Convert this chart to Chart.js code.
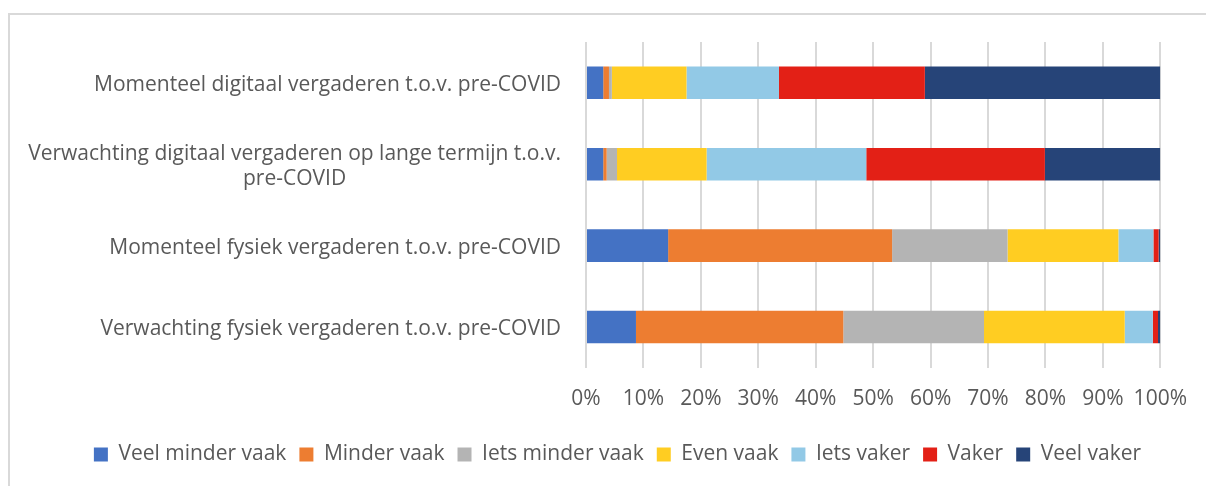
<!DOCTYPE html>
<html>
<head>
<meta charset="utf-8">
<script src="https://cdn.jsdelivr.net/npm/chart.js@4"></script>
<style>
  body { margin: 0; overflow: hidden; background: #fff; }
  #kader { position: absolute; left: 8px; top: 13px; width: 1400px; height: 700px; border: 2px solid #d9d9d9; }
  #cv-verg { position: absolute; left: 0; top: 0; }
</style>
</head>
<body>
<div id="kader"></div>
<canvas id="cv-verg" width="1206" height="486"></canvas>
<script>
let rijen = [
    'Momenteel digitaal vergaderen t.o.v. pre-COVID',
    ['Verwachting digitaal vergaderen op lange termijn t.o.v.', 'pre-COVID'],
    'Momenteel fysiek vergaderen t.o.v. pre-COVID',
    'Verwachting fysiek vergaderen t.o.v. pre-COVID'
];

let antwoorden = ['Veel minder vaak', 'Minder vaak', 'Iets minder vaak', 'Even vaak', 'Iets vaker', 'Vaker', 'Veel vaker'];

// percentages per rij (boven naar beneden)
let veelMinder  = [3.0, 3.0, 14.3, 8.7];
let minder      = [1.0, 0.6, 39.0, 36.1];
let ietsMinder  = [0.5, 1.8, 20.1, 24.5];
let even        = [13.0, 15.6, 19.3, 24.5];
let ietsVaker   = [16.1, 27.8, 6.1, 4.9];
let vaker       = [25.4, 31.1, 0.9, 0.9];
let veelVaker   = [41.0, 20.1, 0.3, 0.4];

let kleuren = ['#4472C4', '#ED7D31', '#B4B4B4', '#FFCD22', '#92C9E6', '#E32016', '#264478'];

let xTicks = [0, 10, 20, 30, 40, 50, 60, 70, 80, 90, 100];

let tekstKleur = '#595959';
let lettertype = 'Open Sans';
let grootte = 21;

let reeksen = [veelMinder, minder, ietsMinder, even, ietsVaker, vaker, veelVaker];

let dados = reeksen.map(function(r, i){
    return {
        label: antwoorden[i],
        data: r,
        backgroundColor: kleuren[i],
        borderWidth: 0,
        barPercentage: 0.8,
        categoryPercentage: 0.5
    };
});

// y-labels zelf tekenen zodat de tweede regel gecentreerd staat
let rijLabels = {
    id: 'rijLabels',
    afterLayout(chart){
        // legenda iets naar rechts, zoals in het origineel
        chart.legend.left += 36;
        chart.legend.right += 36;
    },
    afterDraw(chart){
        let ctx = chart.ctx;
        let y = chart.scales.y;
        let rechts = chart.chartArea.left - 25;
        ctx.save();
        ctx.font = grootte + 'px ' + lettertype;
        ctx.fillStyle = tekstKleur;
        ctx.textBaseline = 'middle';
        ctx.textAlign = 'center';
        rijen.forEach(function(lab, i){
            let regels = Array.isArray(lab) ? lab : [lab];
            let cy = y.getPixelForValue(i) + 2;
            let w = Math.max.apply(null, regels.map(function(l){ return ctx.measureText(l).width; }));
            let cx = rechts - w / 2;
            let start = cy - (regels.length - 1) * 12.5;
            regels.forEach(function(l, j){
                ctx.fillText(l, cx, start + j * 25);
            });
        });
        ctx.restore();
    }
};

let ctx1 = document.getElementById('cv-verg').getContext('2d');

let myChart = new Chart(ctx1, {
    type: 'bar',
    data: {
        labels: rijen,
        datasets: dados
    },
    options: {
        indexAxis: 'y',
        responsive: false,
        animation: false,
        layout: { padding: { left: 0, right: 43, top: 42, bottom: 11 } },
        scales: {
            x: {
                stacked: true,
                min: 0,
                max: 100,
                afterBuildTicks: function(s){ s.ticks = xTicks.map(function(v){ return { value: v }; }); },
                ticks: {
                    callback: function(v){ return v + '%'; },
                    color: tekstKleur,
                    font: { family: lettertype, size: grootte },
                    padding: 19,
                    maxRotation: 0
                },
                grid: { color: '#d9d9d9', lineWidth: 2, drawTicks: false },
                border: { display: false }
            },
            y: {
                stacked: true,
                ticks: { display: false },
                grid: { display: false },
                border: { display: false },
                afterFit: function(s){ s.width = 586; }
            }
        },
        plugins: {
            legend: {
                position: 'bottom',
                labels: {
                    boxWidth: 14,
                    boxHeight: 14,
                    padding: 13,
                    color: tekstKleur,
                    font: { family: lettertype, size: grootte }
                }
            },
            tooltip: { enabled: false }
        }
    },
    plugins: [rijLabels]
});
</script>
</body>
</html>
